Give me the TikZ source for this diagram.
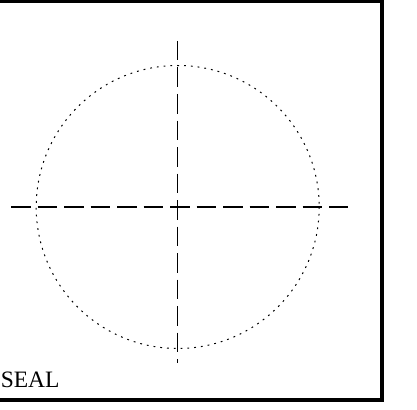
\documentclass[tikz,border=0pt]{standalone}
\usepackage{fontspec}
\setmainfont{Liberation Serif}
\begin{document}
\begin{tikzpicture}[x=1pt, y=-1pt,
  frameline/.style={line width=3.4pt, line join=miter},
  centreline/.style={line width=1.2pt, dash pattern=on 19.5pt off 7pt},
  dottedrim/.style={line width=1pt, dash pattern=on 1.8pt off 5pt}
]
  \useasboundingbox (0,0) rectangle (417,409);
  % outer frame, left side lies off the sheet
  \draw[frameline] (-60,1.7) rectangle (381.8,400);
  % dotted bore and centre lines
  \draw[dottedrim] (177.7,207) circle[radius=141.5];
  \draw[centreline] (11,207) -- (347.5,207);
  \draw[centreline] (177.7,41) -- (177.7,363);
  \node[anchor=base west, font=\fontsize{23.5}{23.5}\selectfont, inner sep=0pt] (seal) at (0.6,387) {SEAL};
\end{tikzpicture}
\end{document}
